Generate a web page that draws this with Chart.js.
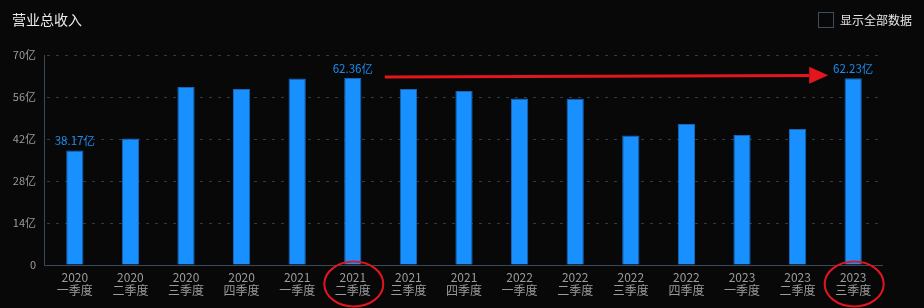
<!DOCTYPE html>
<html>
<head>
<meta charset="utf-8">
<script src="https://cdn.jsdelivr.net/npm/chart.js@4"></script>
<style>
    html, body { margin: 0; padding: 0; background: #080809; }
    #wrap { position: relative; width: 924px; height: 308px; }
    #title { position: absolute; left: 12px; top: 9px; color: #ececec; font: 14px 'Noto Sans CJK SC', sans-serif; }
    #toggle { position: absolute; left: 818px; top: 11px; color: #e6e6e6; font: 12px 'Noto Sans CJK SC', sans-serif; display: flex; align-items: center; }
    #toggle span.box { width: 14px; height: 14px; border: 1px solid #3f4d5e; margin-right: 6px; display: inline-block; }
</style>
</head>
<body>
<div id="wrap">
    <canvas id="revenueChart" width="924" height="308"></canvas>
    <div id="title">营业总收入</div>
    <div id="toggle"><span class="box"></span>显示全部数据</div>
</div>
<script>
// Données : 营业总收入 par trimestre (亿)
const years = ['2020', '2020', '2020', '2020', '2021', '2021', '2021', '2021', '2022', '2022', '2022', '2022', '2023', '2023', '2023'];
const quarters = ['一季度', '二季度', '三季度', '四季度', '一季度', '二季度', '三季度', '四季度', '一季度', '二季度', '三季度', '四季度', '一季度', '二季度', '三季度'];
const revenue = [38.17, 42.2, 59.3, 58.7, 62.2, 62.36, 58.7, 58.0, 55.5, 55.4, 43.2, 47.0, 43.3, 45.3, 62.23];
const yTicks = [0, 14, 28, 42, 56, 70];
const labelledIdx = [0, 5, 14];   // barres avec étiquette de valeur
const circledIdx = [5, 14];       // libellés entourés en rouge
const arrowFrom = 5, arrowTo = 14;

const FONT = "'Noto Sans CJK SC', sans-serif";
const RED = '#e3161e';
const AXIS = '#3b4858';

// Lignes d'axe (décalées un peu à gauche de la zone des barres)
const axisLines = {
    id: 'axisLines',
    beforeDatasetsDraw(chart) {
        const ctx = chart.ctx;
        const a = chart.chartArea;
        ctx.save();
        ctx.strokeStyle = AXIS;
        ctx.lineWidth = 1;
        ctx.beginPath();
        ctx.moveTo(a.left - 2.5, a.top);
        ctx.lineTo(a.left - 2.5, a.bottom + 0.5);
        ctx.lineTo(a.right + 2, a.bottom + 0.5);
        ctx.stroke();
        ctx.restore();
    }
};

// Étiquettes de valeur au-dessus des barres
const valueLabels = {
    id: 'valueLabels',
    afterDatasetsDraw(chart) {
        const ctx = chart.ctx;
        const meta = chart.getDatasetMeta(0);
        ctx.save();
        ctx.font = '11.5px ' + FONT;
        ctx.fillStyle = '#1b8ff2';
        ctx.textAlign = 'center';
        ctx.textBaseline = 'bottom';
        labelledIdx.forEach(i => {
            const bar = meta.data[i];
            ctx.fillText(revenue[i].toFixed(2) + '亿', bar.x, bar.y - 4);
        });
        ctx.restore();
    }
};

// Annotations rouges : flèche + ellipses
const redMarks = {
    id: 'redMarks',
    afterDraw(chart) {
        const ctx = chart.ctx;
        const x = chart.scales.x, y = chart.scales.y;
        ctx.save();
        ctx.strokeStyle = RED;
        ctx.fillStyle = RED;

        // flèche
        const x0 = x.getPixelForValue(arrowFrom) + 32;
        const y0 = y.getPixelForValue(revenue[arrowFrom]) - 1;
        const x1 = x.getPixelForValue(arrowTo) - 25;
        const y1 = y.getPixelForValue(revenue[arrowTo]) - 3;
        const headLen = 19;
        ctx.lineWidth = 3;
        ctx.beginPath();
        ctx.moveTo(x0, y0);
        ctx.lineTo(x1 - headLen, y1 + 0.3);
        ctx.stroke();
        ctx.beginPath();
        ctx.moveTo(x1, y1);
        ctx.lineTo(x1 - headLen, y1 - 8.5);
        ctx.lineTo(x1 - headLen, y1 + 8.5);
        ctx.closePath();
        ctx.fill();

        // ellipses autour des libellés
        ctx.lineWidth = 2;
        circledIdx.forEach(i => {
            const cx = x.getPixelForValue(i) + 1;
            ctx.beginPath();
            ctx.ellipse(cx, chart.chartArea.bottom + 19, 29.5, 22.5, 0, 0, Math.PI * 2);
            ctx.stroke();
        });
        ctx.restore();
    }
};

new Chart(document.getElementById('revenueChart'), {
    type: 'bar',
    data: {
        labels: years.map((yr, i) => [yr, quarters[i]]),
        datasets: [{
            label: '营业总收入',
            data: revenue,
            backgroundColor: '#1890ff',
            borderColor: '#1566b8',
            borderWidth: 1,
            barPercentage: 0.31,
            categoryPercentage: 1
        }]
    },
    options: {
        responsive: false,
        animation: false,
        layout: { padding: { left: 0, right: 43, top: 55, bottom: 0 } },
        plugins: {
            legend: { display: false },
            tooltip: { enabled: false }
        },
        scales: {
            x: {
                grid: { display: false },
                border: { display: false },
                ticks: {
                    color: '#9c9c9c',
                    font: { size: 12, family: FONT, lineHeight: 1.1 },
                    padding: -2,
                    maxRotation: 0,
                    autoSkip: false
                },
                afterFit(scale) { scale.height = 43; }
            },
            y: {
                min: 0,
                max: 70,
                afterBuildTicks(scale) { scale.ticks = yTicks.map(v => ({ value: v })); },
                grid: { color: '#2f3b49', drawTicks: false },
                border: { display: false, dash: [3, 6] },
                ticks: {
                    color: '#9c9c9c',
                    font: { size: 11, family: FONT },
                    padding: 11,
                    callback: v => v === 0 ? '0' : v + '亿'
                },
                afterFit(scale) { scale.width = 47; }
            }
        }
    },
    plugins: [axisLines, valueLabels, redMarks]
});
</script>
</body>
</html>
